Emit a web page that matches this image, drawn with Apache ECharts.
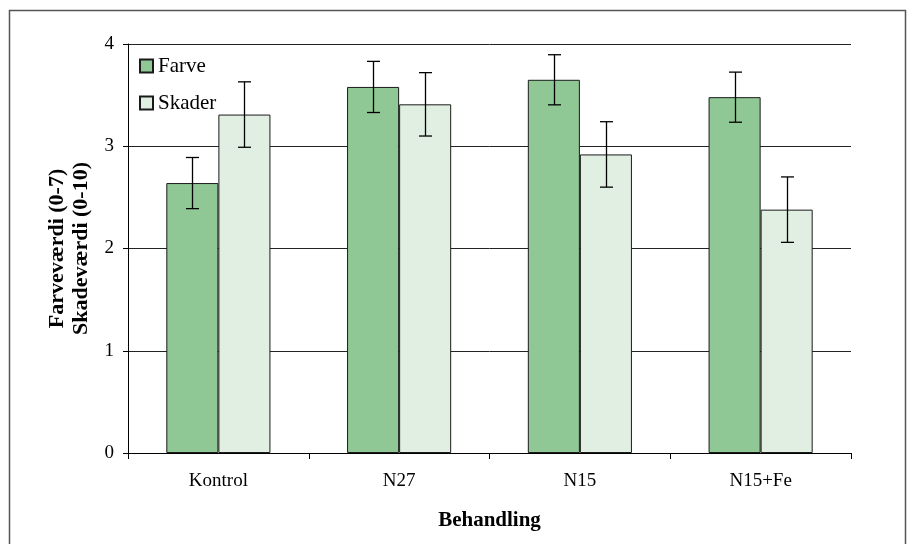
<!DOCTYPE html>
<html>
<head>
<meta charset="utf-8">
<script src="https://cdn.jsdelivr.net/npm/echarts@6/dist/echarts.min.js"></script>
<style>
html,body{margin:0;padding:0;background:#fff;}
#main{width:912px;height:544px;}
</style>
</head>
<body>
<div id="main"></div>
<script>
var categories = ['Kontrol', 'N27', 'N15', 'N15+Fe'];
var farve = [2.64, 3.58, 3.65, 3.48];
var farveErr = [0.25, 0.25, 0.245, 0.245];
var skader = [3.31, 3.41, 2.92, 2.38];
var skaderErr = [0.32, 0.31, 0.32, 0.32];
var yTicks = [0, 1, 2, 3, 4];

var FONT = 'Liberation Serif';
var BAR_FRAC = 0.288;

function errSeries(name, vals, errs, sign) {
  var data = vals.map(function (v, i) { return [i, v - errs[i], v + errs[i]]; });
  return {
    type: 'custom',
    name: name + '_err',
    z: 10,
    silent: true,
    data: data,
    renderItem: function (params, api) {
      var band = api.size([1, 0])[0];
      var off = sign * band * BAR_FRAC / 2;
      var lo = api.coord([api.value(0), api.value(1)]);
      var hi = api.coord([api.value(0), api.value(2)]);
      var x = Math.round(lo[0] + off) + 0.5;
      var cap = 6.5;
      var st = { stroke: '#000', lineWidth: 1.3 };
      return {
        type: 'group',
        children: [
          { type: 'line', shape: { x1: x, y1: lo[1], x2: x, y2: hi[1] }, style: st },
          { type: 'line', shape: { x1: x - cap, y1: lo[1], x2: x + cap, y2: lo[1] }, style: st },
          { type: 'line', shape: { x1: x - cap, y1: hi[1], x2: x + cap, y2: hi[1] }, style: st }
        ]
      };
    }
  };
}

var chart = echarts.init(document.getElementById('main'), null, { renderer: 'canvas' });
chart.setOption({
  animation: false,
  backgroundColor: '#fff',
  textStyle: { fontFamily: FONT },
  graphic: [{
    type: 'rect',
    shape: { x: 9.5, y: 10.5, width: 896, height: 600 },
    style: { fill: 'none', stroke: '#555', lineWidth: 1.5 },
    z: 0
  }],
  grid: { left: 128, right: 61, top: 44, bottom: 91 },
  legend: {
    orient: 'vertical',
    left: 139,
    top: 55,
    padding: 0,
    itemWidth: 13,
    itemHeight: 13,
    itemGap: 15,
    icon: 'rect',
    data: ['Farve', 'Skader'],
    textStyle: { fontFamily: FONT, fontSize: 21, lineHeight: 22, color: '#000' }
  },
  xAxis: {
    type: 'category',
    data: categories,
    name: 'Behandling',
    nameLocation: 'middle',
    nameGap: 57,
    nameTextStyle: { fontFamily: FONT, fontSize: 21, fontWeight: 'bold', color: '#000' },
    axisLine: { lineStyle: { color: '#000', width: 1 } },
    axisTick: { show: true, length: 6, lineStyle: { color: '#000' } },
    axisLabel: { fontFamily: FONT, fontSize: 19, color: '#000', margin: 19 }
  },
  yAxis: {
    type: 'value',
    min: 0,
    max: 4,
    interval: 1,
    name: 'Farveværdi (0-7)\nSkadeværdi (0-10)',
    nameLocation: 'middle',
    nameGap: 35,
    nameRotate: 90,
    nameTextStyle: { fontFamily: FONT, fontSize: 22, fontWeight: 'bold', color: '#000', lineHeight: 24 },
    axisLine: { show: true, lineStyle: { color: '#000', width: 1 } },
    axisTick: { show: true, length: 5, lineStyle: { color: '#000' } },
    axisLabel: {
      fontFamily: FONT, fontSize: 19, color: '#000', margin: 14,
      formatter: function (v) { return yTicks.indexOf(v) >= 0 ? String(v) : ''; }
    },
    splitLine: { show: true, lineStyle: { color: '#222', width: 1 } }
  },
  series: [
    {
      name: 'Farve', type: 'bar', data: farve,
      barWidth: (BAR_FRAC * 100) + '%', barGap: '0%',
      itemStyle: { color: '#8fc894', borderColor: '#1a1a1a', borderWidth: 1 }
    },
    {
      name: 'Skader', type: 'bar', data: skader,
      barWidth: (BAR_FRAC * 100) + '%', barGap: '0%',
      itemStyle: { color: '#e0efe1', borderColor: '#1a1a1a', borderWidth: 1 }
    },
    errSeries('Farve', farve, farveErr, -1),
    errSeries('Skader', skader, skaderErr, 1)
  ]
});
</script>
</body>
</html>
